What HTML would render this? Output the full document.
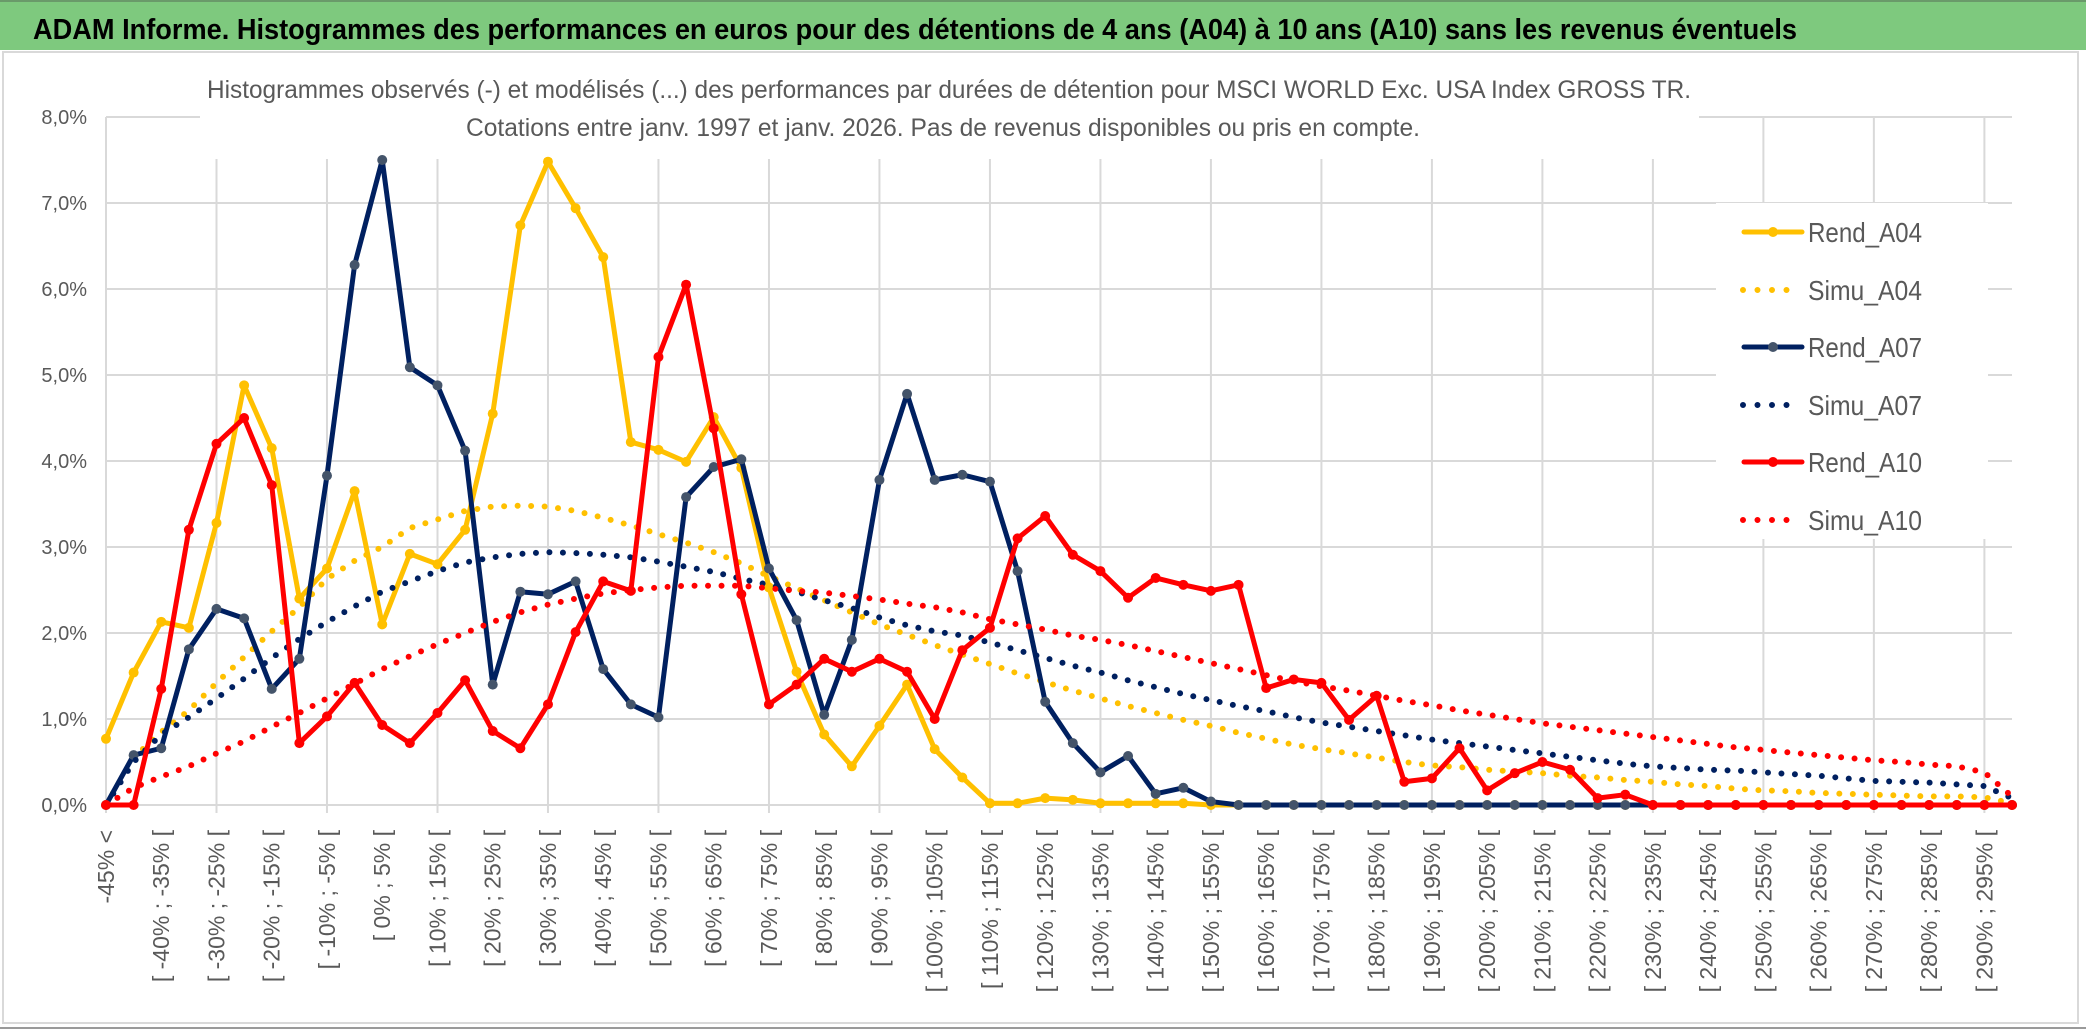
<!DOCTYPE html>
<html>
<head>
<meta charset="utf-8">
<style>
  html,body{margin:0;padding:0;background:#fff;}
  svg{display:block;font-family:"Liberation Sans",sans-serif;}
</style>
</head>
<body>
<svg id="chart" width="2086" height="1031" viewBox="0 0 2086 1031" xmlns="http://www.w3.org/2000/svg">
  <rect x="0" y="0" width="2086" height="1031" fill="#ffffff"/>
  <rect x="0" y="0" width="2086" height="50" fill="#7ec97e"/>
  <line x1="0" y1="1" x2="2086" y2="1" stroke="#6a9a6a" stroke-width="2"/>
  <text x="33" y="39" font-size="29" font-weight="bold" fill="#000" textLength="1764" lengthAdjust="spacingAndGlyphs">ADAM Informe. Histogrammes des performances en euros pour des détentions de 4 ans (A04) à 10 ans (A10) sans les revenus éventuels</text>
  <rect x="3" y="52" width="2075" height="971" fill="none" stroke="#d9d9d9" stroke-width="2"/>
  <line x1="0" y1="1028" x2="2086" y2="1028" stroke="#9a9a9a" stroke-width="2"/>
  <g id="grid"></g>
  <g id="yaxis"></g>
  <g id="xaxis"></g>
  <rect x="200" y="55" width="1499" height="104" fill="#fff"/>
  <text x="207" y="98" font-size="25" fill="#595959" textLength="1484" lengthAdjust="spacingAndGlyphs">Histogrammes observés (-) et modélisés (...) des performances par durées de détention pour MSCI WORLD Exc. USA Index GROSS TR.</text>
  <text x="466" y="136" font-size="25" fill="#595959" textLength="954" lengthAdjust="spacingAndGlyphs">Cotations entre janv. 1997 et janv. 2026. Pas de revenus disponibles ou pris en compte.</text>
  <g id="series"></g>
  <rect x="1716" y="203" width="272" height="336" fill="#fff"/>
  <g id="legend"></g>
</svg>
<script>
const categories = ["-45% <","[ -45% ; -40% [","[ -40% ; -35% [","[ -35% ; -30% [","[ -30% ; -25% [","[ -25% ; -20% [","[ -20% ; -15% [","[ -15% ; -10% [","[ -10% ; -5% [","[ -5% ; 0% [","[ 0% ; 5% [","[ 5% ; 10% [","[ 10% ; 15% [","[ 15% ; 20% [","[ 20% ; 25% [","[ 25% ; 30% [","[ 30% ; 35% [","[ 35% ; 40% [","[ 40% ; 45% [","[ 45% ; 50% [","[ 50% ; 55% [","[ 55% ; 60% [","[ 60% ; 65% [","[ 65% ; 70% [","[ 70% ; 75% [","[ 75% ; 80% [","[ 80% ; 85% [","[ 85% ; 90% [","[ 90% ; 95% [","[ 95% ; 100% [","[ 100% ; 105% [","[ 105% ; 110% [","[ 110% ; 115% [","[ 115% ; 120% [","[ 120% ; 125% [","[ 125% ; 130% [","[ 130% ; 135% [","[ 135% ; 140% [","[ 140% ; 145% [","[ 145% ; 150% [","[ 150% ; 155% [","[ 155% ; 160% [","[ 160% ; 165% [","[ 165% ; 170% [","[ 170% ; 175% [","[ 175% ; 180% [","[ 180% ; 185% [","[ 185% ; 190% [","[ 190% ; 195% [","[ 195% ; 200% [","[ 200% ; 205% [","[ 205% ; 210% [","[ 210% ; 215% [","[ 215% ; 220% [","[ 220% ; 225% [","[ 225% ; 230% [","[ 230% ; 235% [","[ 235% ; 240% [","[ 240% ; 245% [","[ 245% ; 250% [","[ 250% ; 255% [","[ 255% ; 260% [","[ 260% ; 265% [","[ 265% ; 270% [","[ 270% ; 275% [","[ 275% ; 280% [","[ 280% ; 285% [","[ 285% ; 290% [","[ 290% ; 295% [","[ 295% ; 300% ["];
const yTicks = [0,1,2,3,4,5,6,7,8];
const yTickLabels = ["0,0%","1,0%","2,0%","3,0%","4,0%","5,0%","6,0%","7,0%","8,0%"];
const rendA04 = [0.77,1.54,2.13,2.06,3.28,4.88,4.15,2.40,2.75,3.65,2.10,2.92,2.80,3.20,4.55,6.74,7.48,6.94,6.37,4.22,4.13,3.99,4.51,3.92,2.53,1.55,0.82,0.45,0.92,1.40,0.65,0.32,0.02,0.02,0.08,0.06,0.02,0.02,0.02,0.02,0.00,0,0,0,0,0,0,0,0,0,0,0,0,0,0,0,0,0,0,0,0,0,0,0,0,0,0,0,0,0];
const simuA04 = [0,0.55,0.85,1.10,1.42,1.72,2.02,2.30,2.63,2.84,3.00,3.22,3.32,3.42,3.47,3.48,3.47,3.42,3.34,3.25,3.15,3.05,2.94,2.81,2.66,2.52,2.38,2.24,2.10,1.98,1.86,1.75,1.64,1.53,1.43,1.33,1.24,1.15,1.07,0.99,0.92,0.84,0.77,0.70,0.65,0.60,0.55,0.50,0.46,0.44,0.41,0.39,0.37,0.34,0.32,0.29,0.27,0.24,0.22,0.19,0.17,0.16,0.14,0.13,0.12,0.11,0.10,0.10,0.09,0.02];
const rendA07 = [0,0.58,0.66,1.81,2.28,2.17,1.35,1.70,3.83,6.28,7.50,5.09,4.88,4.12,1.40,2.48,2.45,2.60,1.58,1.17,1.02,3.58,3.93,4.02,2.75,2.15,1.05,1.92,3.78,4.78,3.78,3.84,3.76,2.72,1.20,0.72,0.38,0.57,0.13,0.20,0.04,0,0,0,0,0,0,0,0,0,0,0,0,0,0,0,0,0,0,0,0,0,0,0,0,0,0,0,0,0];
const simuA07 = [0,0.50,0.82,1.02,1.24,1.47,1.71,1.93,2.13,2.31,2.48,2.60,2.72,2.82,2.88,2.92,2.94,2.93,2.91,2.88,2.83,2.77,2.71,2.63,2.56,2.48,2.38,2.29,2.18,2.09,2.02,1.97,1.89,1.80,1.71,1.62,1.54,1.45,1.37,1.29,1.22,1.15,1.09,1.02,0.96,0.91,0.86,0.81,0.76,0.72,0.68,0.64,0.60,0.56,0.52,0.48,0.45,0.43,0.41,0.40,0.38,0.36,0.34,0.31,0.28,0.27,0.26,0.24,0.22,0.08];
const rendA10 = [0,0,1.35,3.20,4.20,4.50,3.72,0.72,1.03,1.42,0.93,0.72,1.07,1.45,0.86,0.66,1.17,2.01,2.60,2.49,5.21,6.05,4.38,2.45,1.17,1.40,1.70,1.55,1.70,1.55,1.00,1.80,2.06,3.10,3.36,2.91,2.72,2.41,2.64,2.56,2.49,2.56,1.36,1.46,1.42,0.99,1.27,0.27,0.31,0.66,0.17,0.37,0.50,0.41,0.08,0.12,0,0,0,0,0,0,0,0,0,0,0,0,0,0];
const simuA10 = [0,0.20,0.33,0.45,0.60,0.74,0.91,1.07,1.24,1.41,1.58,1.73,1.87,2.00,2.13,2.24,2.33,2.40,2.46,2.50,2.53,2.55,2.55,2.55,2.52,2.49,2.47,2.43,2.39,2.34,2.30,2.24,2.16,2.10,2.04,1.97,1.92,1.86,1.79,1.72,1.65,1.58,1.51,1.44,1.38,1.33,1.27,1.21,1.16,1.10,1.05,1.00,0.95,0.91,0.87,0.83,0.79,0.75,0.71,0.67,0.64,0.61,0.58,0.55,0.52,0.50,0.47,0.45,0.38,0.10];
const seriesNames = ["Rend_A04","Simu_A04","Rend_A07","Simu_A07","Rend_A10","Simu_A10"];

const NS = "http://www.w3.org/2000/svg";
const plotLeft = 106, plotRight = 2012, plotTop = 117, plotBottom = 805, yMax = 8;
function xScale(i){ return plotLeft + i * (plotRight - plotLeft) / (categories.length - 1); }
function yScale(v){ return plotBottom - v * (plotBottom - plotTop) / yMax; }
function mk(tag, attrs){ const e = document.createElementNS(NS, tag); for (const k in attrs) e.setAttribute(k, attrs[k]); return e; }

const grid = document.getElementById('grid');
yTicks.forEach(function(t){
  const l = mk('line', {x1: plotLeft, x2: plotRight, y1: yScale(t), y2: yScale(t), stroke: '#d9d9d9', 'stroke-width': 2});
  
  
  grid.appendChild(l);
});
for (let i = 0; i < categories.length; i += 4) {
  const l = mk('line', {x1: xScale(i), x2: xScale(i), y1: plotTop, y2: plotBottom + 8, stroke: '#d9d9d9', 'stroke-width': 2});
  
  
  grid.appendChild(l);
}

const yaxis = document.getElementById('yaxis');
yTicks.forEach(function(t, k){
  const tx = mk('text', {x: 87, y: yScale(t) + 7, 'font-size': 20, fill: '#595959', 'text-anchor': 'end'});
  tx.textContent = yTickLabels[k];
  
  
  yaxis.appendChild(tx);
});

const xaxis = document.getElementById('xaxis');
categories.forEach(function(c, i){
  if (i % 2 !== 0) return;
  const x = xScale(i) + 8;
  const tx = mk('text', {x: x, y: 830, 'font-size': 23, fill: '#595959', 'text-anchor': 'end', transform: 'rotate(-90 ' + x + ' 830)'});
  tx.textContent = c;
  
  
  xaxis.appendChild(tx);
});

const seriesG = document.getElementById('series');
function pts(arr){ return arr.map(function(v, i){ return xScale(i) + ',' + yScale(v); }).join(' '); }
function drawSolid(arr, color, markerColor, name){
  const g = mk('g', {});
  
  
  const pl = mk('polyline', {points: pts(arr), fill: 'none', stroke: color, 'stroke-width': 5, 'stroke-linejoin': 'round'});
  
  
  g.appendChild(pl);
  arr.forEach(function(v, i){
    const c = mk('circle', {cx: xScale(i), cy: yScale(v), r: 5, fill: markerColor});
    
    
    g.appendChild(c);
  });
  seriesG.appendChild(g);
}
function drawDotted(arr, color, name){
  const pl = mk('polyline', {points: pts(arr), fill: 'none', stroke: color, 'stroke-width': 6, 'stroke-linecap': 'round', 'stroke-dasharray': '0 13.5'});
  
  
  seriesG.appendChild(pl);
}
drawSolid(rendA04, '#ffc000', '#ffc000', 'rend-a04');
drawDotted(simuA04, '#ffc000', 'simu-a04');
drawSolid(rendA07, '#002060', '#44546a', 'rend-a07');
drawDotted(simuA07, '#002060', 'simu-a07');
drawSolid(rendA10, '#ff0000', '#ff0000', 'rend-a10');
drawDotted(simuA10, '#ff0000', 'simu-a10');

const legend = document.getElementById('legend');
const legendColors = ['#ffc000','#ffc000','#002060','#002060','#ff0000','#ff0000'];
const legendMarkers = ['#ffc000',null,'#44546a',null,'#ff0000',null];
const legendY = [232, 290, 347, 405, 462, 520];
seriesNames.forEach(function(n, k){
  const y = legendY[k];
  const g = mk('g', {});
  
  
  if (legendMarkers[k]) {
    g.appendChild(mk('line', {x1: 1744, x2: 1802, y1: y, y2: y, stroke: legendColors[k], 'stroke-width': 5, 'stroke-linecap': 'round'}));
    g.appendChild(mk('circle', {cx: 1773, cy: y, r: 5, fill: legendMarkers[k]}));
  } else {
    g.appendChild(mk('line', {x1: 1743, x2: 1800, y1: y, y2: y, stroke: legendColors[k], 'stroke-width': 6, 'stroke-linecap': 'round', 'stroke-dasharray': '0 14.5'}));
  }
  const t = mk('text', {x: 1808, y: y + 10, 'font-size': 28, fill: '#595959', textLength: 114, lengthAdjust: 'spacingAndGlyphs'});
  t.textContent = n;
  g.appendChild(t);
  legend.appendChild(g);
});
</script>
</body>
</html>
